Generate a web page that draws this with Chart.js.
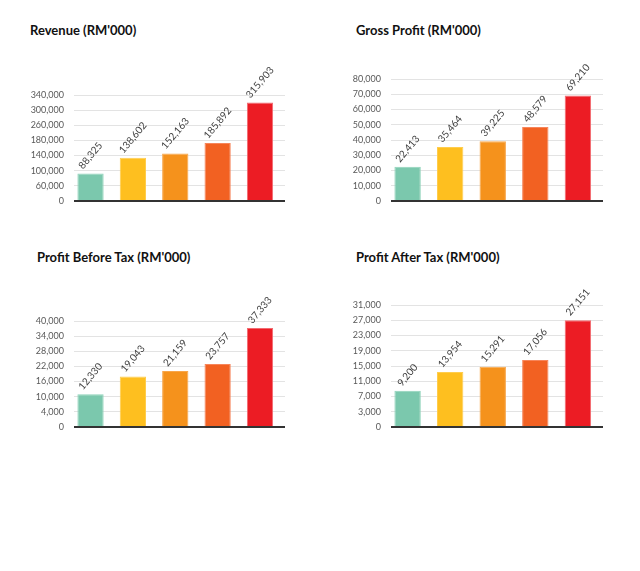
<!DOCTYPE html>
<html>
<head>
<meta charset="utf-8">
<script src="https://cdn.jsdelivr.net/npm/chart.js@4/dist/chart.umd.min.js"></script>
<style>
  html, body { margin: 0; padding: 0; background: #fff; }
  body { width: 640px; height: 571px; position: relative; overflow: hidden; font-family: Lato, "Open Sans", sans-serif; }
  .title { position: absolute; font-weight: bold; font-size: 13px; line-height: 13px; color: #111; white-space: nowrap; }
  .box { position: absolute; width: 320px; height: 180px; }
</style>
</head>
<body>
<div class="title" style="left:30px; top:24px;">Revenue (RM'000)</div>
<div class="title" style="left:356px; top:24px;">Gross Profit (RM'000)</div>
<div class="title" style="left:37px; top:251px;">Profit Before Tax (RM'000)</div>
<div class="title" style="left:356px; top:251px;">Profit After Tax (RM'000)</div>

<div class="box" style="left:0; top:40px;"><canvas id="c1"></canvas></div>
<div class="box" style="left:320px; top:40px;"><canvas id="c2"></canvas></div>
<div class="box" style="left:0; top:265px;"><canvas id="c3"></canvas></div>
<div class="box" style="left:320px; top:265px;"><canvas id="c4"></canvas></div>

<script>
// ---- data ----
const categories = ['Y1', 'Y2', 'Y3', 'Y4', 'Y5'];

const revenueValues = [88325, 138602, 152163, 185892, 315903];
const revenueTicks = ['0', '60,000', '100,000', '140,000', '180,000', '260,000', '300,000', '340,000'];

const grossProfitValues = [22413, 35464, 39225, 48579, 69210];
const grossProfitTicks = ['0', '10,000', '20,000', '30,000', '40,000', '50,000', '60,000', '70,000', '80,000'];

const pbtValues = [12330, 19043, 21159, 23757, 37333];
const pbtTicks = ['0', '4,000', '10,000', '16,000', '22,000', '28,000', '34,000', '40,000'];

const patValues = [9200, 13954, 15291, 17056, 27151];
const patTicks = ['0', '3,000', '7,000', '11,000', '15,000', '19,000', '23,000', '27,000', '31,000'];

const barColors = ['#7BC8AD', '#FEBF1F', '#F5921C', '#F26122', '#EC1C24'];
const barBorders = ['#8fd3ba', '#ffcd4d', '#f8a64a', '#f7855a', '#f26a70'];

// ---- rotated value labels ----
const valueLabels = {
  id: 'valueLabels',
  afterDatasetsDraw(chart) {
    const ctx = chart.ctx;
    const meta = chart.getDatasetMeta(0);
    const vals = chart.data.datasets[0].data;
    const ang = 50 * Math.PI / 180;
    ctx.save();
    ctx.font = '10px Lato, "Open Sans", sans-serif';
    ctx.fillStyle = '#404040';
    ctx.textAlign = 'center';
    ctx.textBaseline = 'middle';
    meta.data.forEach((bar, i) => {
      const txt = vals[i].y.toLocaleString('en-US');
      const w = ctx.measureText(txt).width;
      const h = 9;
      const ext = w * Math.sin(ang) + h * Math.cos(ang);
      const cy = bar.y - 3 - ext / 2;
      ctx.save();
      ctx.translate(bar.x, cy);
      ctx.rotate(-ang);
      ctx.fillText(txt, 0, 0);
      ctx.restore();
    });
    ctx.restore();
  }
};

function makeChart(id, values, tickLabels, pad, axisWidth) {
  const n = tickLabels.length;
  const maxVal = parseFloat(tickLabels[n - 1].replace(/,/g, ''));
  const step = maxVal / (n - 1);
  new Chart(document.getElementById(id), {
    type: 'bar',
    data: {
      datasets: [{
        data: values.map((v, i) => ({ x: i, y: v })),
        backgroundColor: barColors,
        borderColor: barBorders,
        borderWidth: 1,
        categoryPercentage: 1,
        barPercentage: 0.62
      }]
    },
    options: {
      responsive: true,
      maintainAspectRatio: false,
      animation: false,
      layout: { padding: pad },
      plugins: { legend: { display: false }, tooltip: { enabled: false } },
      scales: {
        x: { type: 'linear', min: -0.39, max: 4.59, offset: false, display: false },
        y: {
          min: 0,
          max: maxVal,
          afterFit(scale) { scale.width = axisWidth; },
          afterBuildTicks(scale) {
            scale.ticks = tickLabels.map((_, i) => ({ value: i * step }));
          },
          ticks: {
            padding: 10,
            color: '#595959',
            font: { family: 'Lato, "Open Sans", sans-serif', size: 9 },
            callback: (v, i) => tickLabels[i]
          },
          border: { display: false },
          grid: {
            drawTicks: false,
            color: c => (c.index === 0 ? '#333333' : '#e3e3e3'),
            lineWidth: c => (c.index === 0 ? 2 : 1)
          }
        }
      }
    },
    plugins: [valueLabels]
  });
}

makeChart('c1', revenueValues, revenueTicks, { top: 55, bottom: 19, left: 0, right: 35 }, 74);
makeChart('c2', grossProfitValues, grossProfitTicks, { top: 39, bottom: 19, left: 0, right: 37 }, 71);
makeChart('c3', pbtValues, pbtTicks, { top: 56, bottom: 18, left: 0, right: 35 }, 74);
makeChart('c4', patValues, patTicks, { top: 40, bottom: 18, left: 0, right: 37 }, 71);
</script>
</body>
</html>
